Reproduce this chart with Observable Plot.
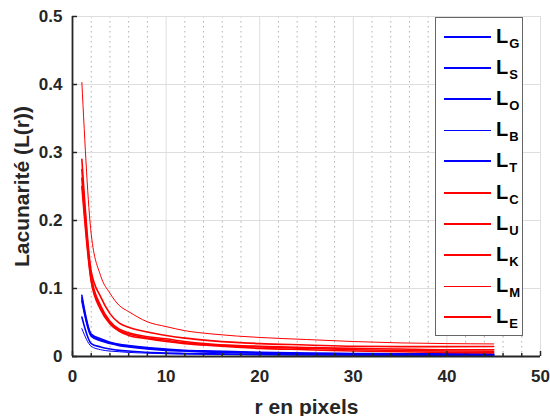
<!DOCTYPE html>
<html>
<head>
<meta charset="utf-8">
<script src="https://cdn.jsdelivr.net/npm/d3@7"></script>
<script src="https://cdn.jsdelivr.net/npm/@observablehq/plot@0.6"></script>
<style>
  html, body { margin: 0; padding: 0; background: #fff; }
  #wrap { position: relative; width: 550px; height: 416px; font-family: "Liberation Sans", Arial, sans-serif; }
  #legend { position: absolute; left: 435px; top: 17px; width: 86px; height: 314px; border: 1.5px solid #666; background: #fff; padding-top: 3px; box-sizing: content-box; }
  .row { height: 31.2px; display: flex; align-items: center; }
  .sw { margin-left: 8px; width: 47px; }
  .lab { margin-left: 5px; font-weight: bold; font-size: 20px; color: #000; line-height: 1; margin-top: -2px; }
  .lab sub { font-size: 13px; position: relative; top: 5px; vertical-align: baseline; margin-left: 1px; }
</style>
</head>
<body>
<div id="wrap"></div>
<script>
// r values (pixels) at which the curves were read
const r = [1, 2, 3, 4, 5, 6, 8, 10, 12, 15, 20, 25, 30, 35, 40, 45];

// Blue series
const LG = [0.090, 0.033, 0.026, 0.021, 0.018, 0.016, 0.013, 0.011, 0.009, 0.008, 0.006, 0.005, 0.0045, 0.004, 0.0038, 0.0035];
const LS = [0.086, 0.031, 0.024, 0.020, 0.017, 0.015, 0.012, 0.010, 0.0085, 0.007, 0.0055, 0.0045, 0.004, 0.0035, 0.0032, 0.003];
const LO = [0.082, 0.030, 0.023, 0.019, 0.016, 0.014, 0.011, 0.009, 0.008, 0.0065, 0.005, 0.004, 0.0035, 0.003, 0.0028, 0.0025];
const LB = [0.041, 0.015, 0.010, 0.008, 0.007, 0.006, 0.005, 0.004, 0.0035, 0.003, 0.0025, 0.002, 0.0018, 0.0016, 0.0015, 0.0014];
const LT = [0.058, 0.019, 0.014, 0.011, 0.009, 0.008, 0.006, 0.005, 0.0045, 0.004, 0.003, 0.0025, 0.0022, 0.002, 0.0018, 0.0016];
// Red series
const LC = [0.290, 0.125, 0.088, 0.063, 0.049, 0.043, 0.036, 0.031, 0.027, 0.023, 0.019, 0.017, 0.015, 0.0145, 0.0145, 0.0147];
const LU = [0.275, 0.118, 0.075, 0.052, 0.040, 0.035, 0.029, 0.026, 0.022, 0.018, 0.015, 0.013, 0.012, 0.011, 0.010, 0.0099];
const LK = [0.262, 0.113, 0.072, 0.050, 0.038, 0.033, 0.027, 0.024, 0.020, 0.017, 0.014, 0.012, 0.010, 0.009, 0.008, 0.0078];
const LM = [0.403, 0.180, 0.119, 0.093, 0.075, 0.066, 0.051, 0.044, 0.038, 0.033, 0.028, 0.025, 0.022, 0.020, 0.019, 0.0185];
const LE = [0.250, 0.110, 0.069, 0.048, 0.037, 0.031, 0.026, 0.022, 0.019, 0.016, 0.012, 0.010, 0.008, 0.007, 0.006, 0.0054];

const seriesNames = ["G", "S", "O", "B", "T", "C", "U", "K", "M", "E"];
const seriesValues = [LG, LS, LO, LB, LT, LC, LU, LK, LM, LE];
const seriesColors = ["#0000ff", "#0000ff", "#0000ff", "#0000ff", "#0000ff", "#ff0000", "#ff0000", "#ff0000", "#ff0000", "#ff0000"];
const seriesWidths = [1.6, 1.6, 1.6, 1, 1.6, 1.6, 1.6, 1.6, 1, 1.6];

const xMajor = [0, 10, 20, 30, 40, 50];
const xMinor = [2, 4, 6, 8, 12, 14, 16, 18, 22, 24, 26, 28, 32, 34, 36, 38, 42, 44, 46, 48];
const yMajor = [0, 0.1, 0.2, 0.3, 0.4, 0.5];

const xLabel = "r en pixels";
const yLabel = "Lacunarité (L(r))";

const W = 550, H = 416, mL = 72, mR = 10, mT = 16, mB = 60;
const iw = W - mL - mR, ih = H - mT - mB;
const axisColor = "#262626";

const lineMarks = seriesValues.map((vals, k) =>
  Plot.line(r.map((x, i) => ({x, y: vals[i]})), {
    x: "x", y: "y", stroke: seriesColors[k], strokeWidth: seriesWidths[k], curve: "monotone-x"
  })
);

const chart = Plot.plot({
  width: W, height: H,
  marginLeft: mL, marginRight: mR, marginTop: mT, marginBottom: mB,
  x: {domain: [0, 50]},
  y: {domain: [0, 0.5]},
  style: {fontFamily: "'Liberation Sans', Arial, sans-serif", fontWeight: "bold", fontSize: "17px", color: axisColor, background: "#fff"},
  marks: [
    Plot.ruleX(xMinor, {x: d => d, stroke: "#b0b0b0", strokeDasharray: "1.5,3.5", strokeWidth: 1}),
    Plot.ruleX(xMajor.slice(1), {x: d => d, stroke: "#dedede", strokeWidth: 1}),
    Plot.ruleY(yMajor.slice(1), {y: d => d, stroke: "#dedede", strokeWidth: 1}),
    ...lineMarks,
    Plot.tickX(xMinor, {x: d => d, insetTop: ih - 3, stroke: axisColor, strokeWidth: 1.5}),
    Plot.tickX(xMajor, {x: d => d, insetTop: ih - 5, stroke: axisColor, strokeWidth: 1.5}),
    Plot.tickY(yMajor, {y: d => d, insetRight: iw - 5, stroke: axisColor, strokeWidth: 1.5}),
    Plot.ruleX([0], {stroke: axisColor, strokeWidth: 1.8}),
    Plot.ruleY([0], {stroke: axisColor, strokeWidth: 1.8}),
    Plot.axisX({ticks: xMajor, tickSize: 0, tickPadding: 13, tickFormat: d => String(d), label: null}),
    Plot.axisY({ticks: yMajor, tickSize: 0, tickPadding: 10, tickFormat: d => String(+d.toFixed(1)), label: null}),
    Plot.text([xLabel], {text: d => d, frameAnchor: "bottom", textAnchor: "middle", dy: 57, fontSize: 21, fontWeight: "bold", fill: axisColor}),
    Plot.text([yLabel], {text: d => d, frameAnchor: "left", textAnchor: "middle", dx: -50, rotate: -90, fontSize: 21, fontWeight: "bold", fill: axisColor})
  ]
});

const wrap = document.getElementById("wrap");
wrap.appendChild(chart);

const legend = document.createElement("div");
legend.id = "legend";
seriesNames.forEach((n, k) => {
  const row = document.createElement("div");
  row.className = "row";
  const sw = document.createElement("div");
  sw.className = "sw";
  sw.style.borderTop = (seriesWidths[k] + 0.4) + "px solid " + seriesColors[k];
  const lab = document.createElement("div");
  lab.className = "lab";
  lab.innerHTML = "L<sub>" + n + "</sub>";
  row.appendChild(sw);
  row.appendChild(lab);
  legend.appendChild(row);
});
wrap.appendChild(legend);
</script>
</body>
</html>
